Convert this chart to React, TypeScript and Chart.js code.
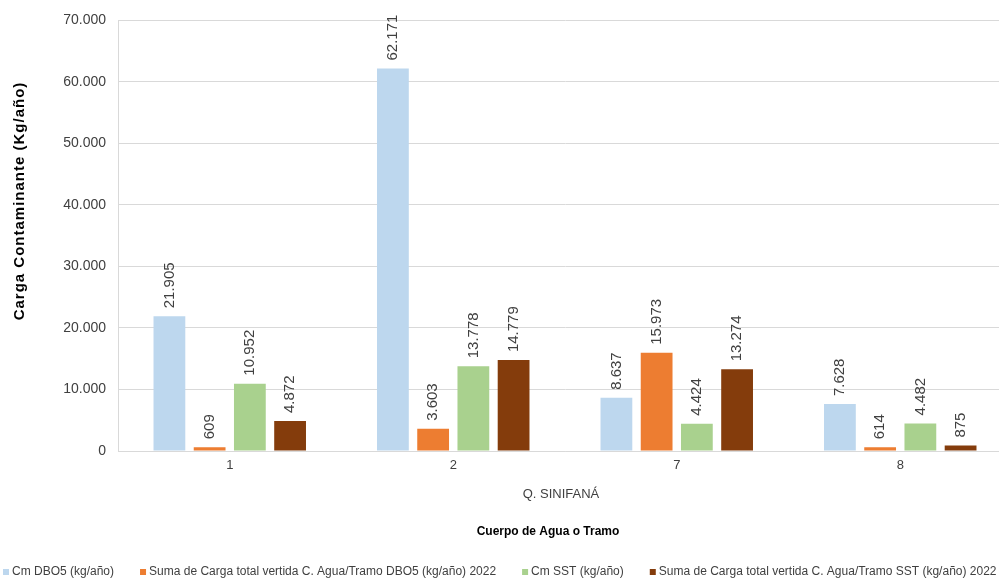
import React, { useEffect, useRef } from "react";
import { Chart, registerables } from "chart.js";

Chart.register(...registerables);

const categories = ["1", "2", "7", "8"];
const groupLabel = "Q. SINIFANÁ";
const xTitle = "Cuerpo de Agua o Tramo";
const yTitle = "Carga Contaminante (Kg/año)";
const seriesNames = [
  "Cm DBO5 (kg/año)",
  "Suma de Carga total vertida C. Agua/Tramo DBO5 (kg/año) 2022",
  "Cm SST (kg/año)",
  "Suma de Carga total vertida C. Agua/Tramo SST (kg/año) 2022",
];
const cmDBO5 = [21905, 62171, 8637, 7628];
const sumaDBO5 = [609, 3603, 15973, 614];
const cmSST = [10952, 13778, 4424, 4482];
const sumaSST = [4872, 14779, 13274, 875];
const colors = ["#BDD7EE", "#ED7D31", "#A9D18E", "#843C0C"];

const fmt = (v: number) =>
  Math.round(v)
    .toString()
    .replace(/\B(?=(\d{3})+(?!\d))/g, ".");

const FONT = "'Liberation Sans', Arial, sans-serif";
const TEXT = "#404040";

const valueLabels = {
  id: "valueLabels",
  afterDatasetsDraw(chart: any) {
    const ctx = chart.ctx;
    ctx.save();
    ctx.font = `15px ${FONT}`;
    ctx.fillStyle = TEXT;
    chart.data.datasets.forEach((ds: any, i: number) => {
      const meta = chart.getDatasetMeta(i);
      meta.data.forEach((el: any, j: number) => {
        ctx.save();
        ctx.translate(el.x, el.y - 8);
        ctx.rotate(-Math.PI / 2);
        ctx.textAlign = "left";
        ctx.textBaseline = "middle";
        ctx.fillText(fmt(ds.data[j]), 0, 0);
        ctx.restore();
      });
    });
    ctx.restore();
  },
};

const extras = {
  id: "extras",
  afterDraw(chart: any) {
    const ctx = chart.ctx;
    const area = chart.chartArea;
    ctx.save();
    // group label
    ctx.fillStyle = TEXT;
    ctx.font = `13px ${FONT}`;
    ctx.textAlign = "center";
    ctx.textBaseline = "middle";
    ctx.fillText(groupLabel, 561, 494);
    // x title
    ctx.fillStyle = "#000";
    ctx.font = `bold 12px ${FONT}`;
    ctx.fillText(xTitle, 548, 532);
    // y title
    ctx.save();
    ctx.translate(20, 201);
    ctx.rotate(-Math.PI / 2);
    ctx.font = `bold 15px ${FONT}`;
    (ctx as any).letterSpacing = "1px";
    ctx.textAlign = "center";
    ctx.fillText(yTitle, 0, 0);
    ctx.restore();
    // legend
    ctx.font = `12px ${FONT}`;
    ctx.textAlign = "left";
    ctx.textBaseline = "middle";
    let x = 3;
    const cy = 572;
    seriesNames.forEach((name, i) => {
      ctx.fillStyle = colors[i];
      ctx.fillRect(x, cy - 3, 6, 6);
      ctx.fillStyle = TEXT;
      ctx.fillText(name, x + 9, cy);
      x += 9 + ctx.measureText(name).width + 26;
    });
    ctx.restore();
    void area;
  },
};

export default function App() {
  const ref = useRef<HTMLCanvasElement>(null);
  useEffect(() => {
    if (!ref.current) return;
    const series = [cmDBO5, sumaDBO5, cmSST, sumaSST];
    const chart = new Chart(ref.current, {
      type: "bar",
      data: {
        labels: categories,
        datasets: series.map((d, i) => ({
          label: seriesNames[i],
          data: d,
          backgroundColor: colors[i],
          categoryPercentage: 0.72,
          barPercentage: 0.79,
        })),
      },
      options: {
        animation: false,
        responsive: false,
        maintainAspectRatio: false,
        layout: { padding: { top: 20, left: 0, right: 3, bottom: 0 } },
        plugins: {
          legend: { display: false },
          tooltip: { enabled: false },
        },
        scales: {
          x: {
            type: "category",
            grid: { display: false, drawTicks: false },
            border: { color: "#d9d9d9" },
            ticks: {
              color: TEXT,
              font: { size: 13, family: FONT },
              padding: 7,
            },
            afterFit: (s: any) => {
              s.height = 129;
            },
          },
          y: {
            min: 0,
            max: 70000,
            ticks: {
              stepSize: 10000,
              color: TEXT,
              font: { size: 14, family: FONT },
              padding: 12,
              callback: (v: any) => fmt(Number(v)),
            },
            grid: { color: "#d9d9d9", drawTicks: false },
            border: { color: "#d9d9d9" },
            afterFit: (s: any) => {
              s.width = 118;
            },
          },
        },
      },
      plugins: [valueLabels, extras],
    });
    return () => chart.destroy();
  }, []);
  return (
    <div style={{ position: "absolute", left: 0, top: 0, width: 1015, height: 580 }}>
      <canvas ref={ref} width={1015} height={580} style={{ display: "block" }} />
    </div>
  );
}
